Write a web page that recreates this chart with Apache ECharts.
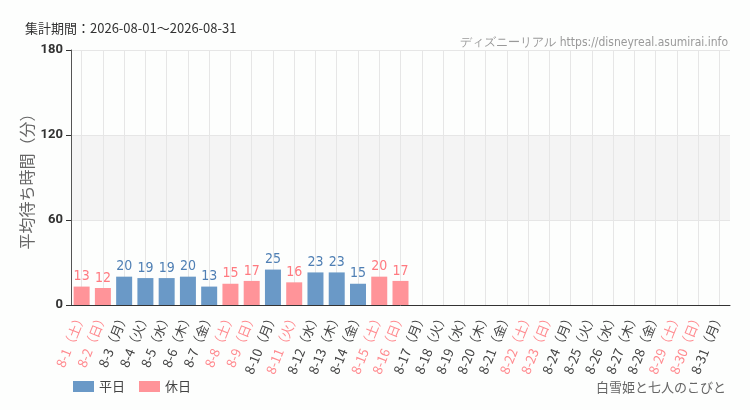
<!DOCTYPE html>
<html><head><meta charset="utf-8">
<script src="https://cdn.jsdelivr.net/npm/echarts@6/dist/echarts.min.js"></script>
<style>html,body{margin:0;padding:0;background:#fdfefd}#c{width:750px;height:410px}</style>
</head><body><div id="c"></div>
<script>
const categories = ['8-1','8-2','8-3','8-4','8-5','8-6','8-7','8-8','8-9','8-10','8-11','8-12','8-13','8-14','8-15','8-16','8-17','8-18','8-19','8-20','8-21','8-22','8-23','8-24','8-25','8-26','8-27','8-28','8-29','8-30','8-31'];
const weekdays = ['土','日','月','火','水','木','金','土','日','月','火','水','木','金','土','日','月','火','水','木','金','土','日','月','火','水','木','金','土','日','月'];
const holidayFlags = [1,1,0,0,0,0,0,1,1,0,1,0,0,0,1,1,0,0,0,0,0,1,1,0,0,0,0,0,1,1,0];
const weekdayValues = [null,null,20,19,19,20,13,null,null,25,null,23,23,15,null,null,null,null,null,null,null,null,null,null,null,null,null,null,null,null,null];
const holidayValues = [13,12,null,null,null,null,null,15,17,null,16,null,null,null,20,17,null,null,null,null,null,null,null,null,null,null,null,null,null,null,null];
const yTicks = [0,60,120,180];

const labels = categories.map((c,i)=>c+'（'+weekdays[i]+'）');
const gridHalf = Array.from({length: categories.length*2+1}, (_,i)=>String(i));
const narrow = '"DejaVu Sans Condensed", "Liberation Sans Narrow", Roboto';

const chart = echarts.init(document.getElementById('c'));
chart.setOption({
  backgroundColor: '#fdfefd',
  animation: false,
  title: [
    {text: '集計期間：2026-08-01～2026-08-31', left: 20, top: 17,
     textStyle: {fontSize: 13, fontWeight: 'normal', color: '#333', fontFamily: 'Noto Sans CJK JP'}},
    {text: 'ディズニーリアル https://disneyreal.asumirai.info', right: 17, top: 32,
     textStyle: {fontSize: 12, fontWeight: 'normal', color: '#999', fontFamily: narrow}},
    {text: '白雪姫と七人のこびと', right: 19, top: 376,
     textStyle: {fontSize: 13, fontWeight: 'normal', color: '#666', fontFamily: 'Noto Sans CJK JP'}}
  ],
  legend: {
    left: 68, top: 375, itemWidth: 21, itemHeight: 11, itemGap: 14,
    icon: 'rect',
    textStyle: {fontSize: 13, color: '#444', fontFamily: 'Noto Sans CJK JP'},
    data: ['平日','休日']
  },
  grid: {left: 71, right: 20, top: 50, bottom: 105},
  xAxis: [
    {type: 'category', data: labels,
     axisLine: {lineStyle: {color: '#333'}},
     axisTick: {alignWithLabel: true, lineStyle: {color: '#333'}},
     splitLine: {show: false},
     axisLabel: {rotate: 68, interval: 0, fontSize: 13, margin: 8,
       fontFamily: 'Noto Sans CJK JP',
       color: (v, i) => holidayFlags[i] ? '#ff8a8f' : '#444'}},
    {type: 'category', data: gridHalf, boundaryGap: false, position: 'bottom',
     axisLine: {show: false}, axisTick: {show: false}, axisLabel: {show: false},
     splitLine: {show: true, interval: (i) => i % 2 === 1, lineStyle: {color: '#e6e6e6'}}}
  ],
  yAxis: {
    type: 'value', min: 0, max: 180, interval: 60,
    name: '平均待ち時間（分）', nameLocation: 'middle', nameGap: 36, nameMoveOverlap: false,
    nameTextStyle: {fontSize: 16, color: '#666', fontFamily: 'Noto Sans CJK JP'},
    axisLine: {show: true, lineStyle: {color: '#555'}},
    axisTick: {show: true, lineStyle: {color: '#333'}},
    axisLabel: {fontSize: 13, color: '#333', fontWeight: 'bold', fontFamily: 'Roboto',
      formatter: v => yTicks.includes(v) ? String(v) : ''},
    splitLine: {lineStyle: {color: '#e6e6e6'}},
    splitArea: {show: true, areaStyle: {color: ['rgba(255,255,255,0)', '#f4f4f4']}}
  },
  series: [
    {name: '平日', type: 'bar', stack: 'a', data: weekdayValues, barWidth: 16,
     itemStyle: {color: '#6a99c7'},
     label: {show: true, position: 'top', distance: 3, fontSize: 14, color: '#4f7fb4',
       fontFamily: narrow}},
    {name: '休日', type: 'bar', stack: 'a', data: holidayValues, barWidth: 16,
     itemStyle: {color: '#ff9499'},
     label: {show: true, position: 'top', distance: 3, fontSize: 14, color: '#ff7a80',
       fontFamily: narrow}}
  ]
});
</script></body></html>
